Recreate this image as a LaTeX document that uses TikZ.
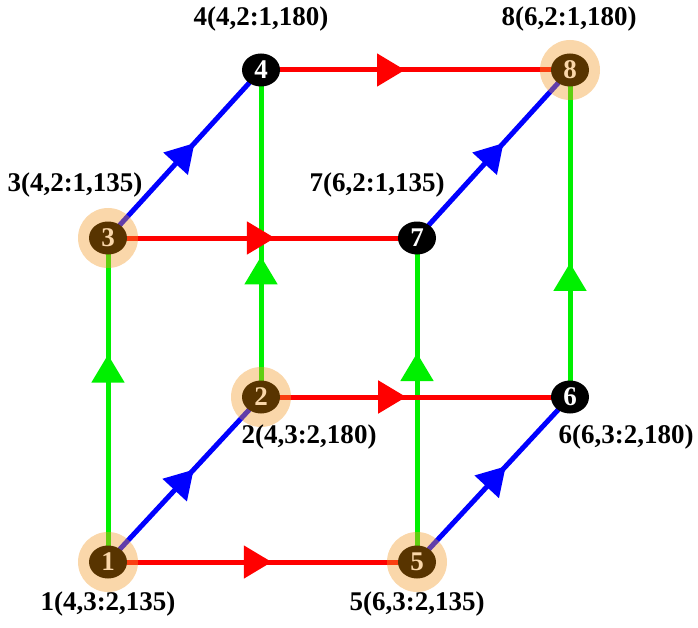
\documentclass[tikz,border=0pt]{standalone}
\usepackage{fontspec}
\setmainfont{Liberation Serif}
\usetikzlibrary{arrows.meta,decorations.markings,shapes.geometric}
\definecolor{halo}{RGB}{243,155,42}
\definecolor{nbrown}{RGB}{88,52,0}
\definecolor{peach}{RGB}{250,215,170}
\definecolor{ered}{RGB}{255,0,0}
\definecolor{egreen}{RGB}{0,240,0}
\definecolor{eblue}{RGB}{0,0,255}
\tikzset{
  vtx/.style={ellipse,inner sep=0pt,minimum width=38bp,minimum height=33bp,font=\fontsize{27bp}{30bp}\selectfont\bfseries},
  bvtx/.style={vtx,fill=nbrown,text=peach},
  kvtx/.style={vtx,fill=black,text=white},
  lab/.style={font=\fontsize{27bp}{30bp}\selectfont\bfseries,inner sep=0pt},
  edge/.style={line width=5bp},
  mid/.style={postaction={decorate},decoration={markings,mark=at position #1 with {\arrow{Triangle[length=28bp,width=32bp]}}}},
}
\begin{document}
\begin{tikzpicture}[x=1bp,y=-1bp]
\useasboundingbox (0,0) rectangle (698,628);
% coordinates
\coordinate (p1) at (108,562);
\coordinate (p2) at (261,397);
\coordinate (p3) at (108,238);
\coordinate (p4) at (261,70);
\coordinate (p5) at (417,562);
\coordinate (p6) at (570,397);
\coordinate (p7) at (417,238);
\coordinate (p8) at (570,70);
% green edges
\draw[edge,egreen,mid=0.64] (p1) -- (p3);
\draw[edge,egreen,mid=0.43] (p2) -- (p4);
\draw[edge,egreen,mid=0.645] (p5) -- (p7);
\draw[edge,egreen,mid=0.41] (p6) -- (p8);
% blue edges
\draw[edge,eblue,mid=0.56] (p1) -- (p2);
\draw[edge,eblue,mid=0.565] (p3) -- (p4);
\draw[edge,eblue,mid=0.58] (p5) -- (p6);
\draw[edge,eblue,mid=0.565] (p7) -- (p8);
% red edges
\draw[edge,ered,mid=0.53] (p1) -- (p5);
\draw[edge,ered,mid=0.54] (p3) -- (p7);
\draw[edge,ered,mid=0.47] (p2) -- (p6);
\draw[edge,ered,mid=0.466] (p4) -- (p8);
% halos
\foreach \p in {p1,p2,p3,p5,p8}{\fill[halo,opacity=0.4] (\p) circle (30bp);}
% nodes
\node[bvtx] (n1) at (p1) {1};
\node[bvtx] (n2) at (p2) {2};
\node[bvtx] (n3) at (p3) {3};
\node[kvtx] (n4) at (p4) {4};
\node[bvtx] (n5) at (p5) {5};
\node[kvtx] (n6) at (p6) {6};
\node[kvtx] (n7) at (p7) {7};
\node[bvtx] (n8) at (p8) {8};
% labels
\node[lab] (l1) at (108,604) {1(4,3:2,135)};
\node[lab] (l2) at (309,437) {2(4,3:2,180)};
\node[lab] (l3) at (75,185) {3(4,2:1,135)};
\node[lab] (l4) at (261,19) {4(4,2:1,180)};
\node[lab] (l5) at (417,604) {5(6,3:2,135)};
\node[lab] (l6) at (626,437) {6(6,3:2,180)};
\node[lab] (l7) at (377,185) {7(6,2:1,135)};
\node[lab] (l8) at (569,19) {8(6,2:1,180)};
\end{tikzpicture}
\end{document}
